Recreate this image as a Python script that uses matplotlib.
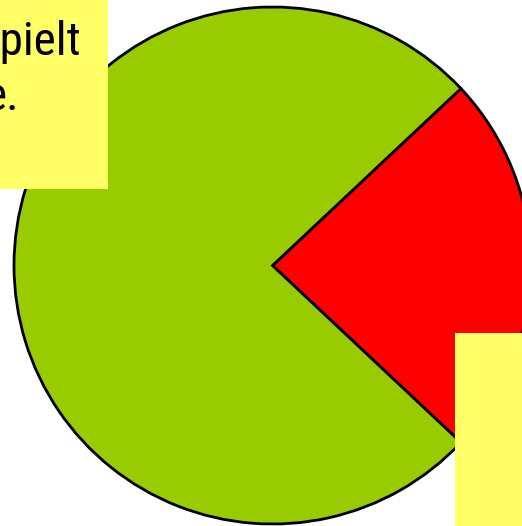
import matplotlib
matplotlib.use("Agg")
import matplotlib.pyplot as plt
from matplotlib.patches import Rectangle

W, H = 522, 526
labels = ["rot", "grün"]
values = [24, 76]
colors = ["#FF0000", "#99CC00"]
text_lines = ["spielt", "e."]

fig = plt.figure(figsize=(W / 100, H / 100), dpi=100)
ax = fig.add_axes([0, 0, 1, 1])
ax.set_xlim(0, W)
ax.set_ylim(0, H)
ax.axis("off")

start = -values[0] / 100 * 360 / 2
ax.pie(values, colors=colors, startangle=start, counterclock=True,
       center=(272.5, H - 265.5), radius=258.5,
       wedgeprops=dict(edgecolor="black", linewidth=2), frame=False)
ax.set_xlim(0, W)
ax.set_ylim(0, H)
ax.set_aspect("auto")

ax.add_patch(Rectangle((0, H - 189), 108, 189, facecolor="#FFFF66", edgecolor="none", zorder=5))
ax.add_patch(Rectangle((455, 0), 67, H - 333, facecolor="#FFFF66", edgecolor="none", zorder=5))

fam = ["Roboto Condensed", "DejaVu Sans"]
ax.text(81, H - 55, text_lines[0], ha="right", va="baseline", fontsize=34,
        family=fam, color="black", zorder=6)
ax.text(19, H - 110, text_lines[1], ha="right", va="baseline", fontsize=34,
        family=fam, color="black", zorder=6)

fig.savefig("out.png", dpi=100)
